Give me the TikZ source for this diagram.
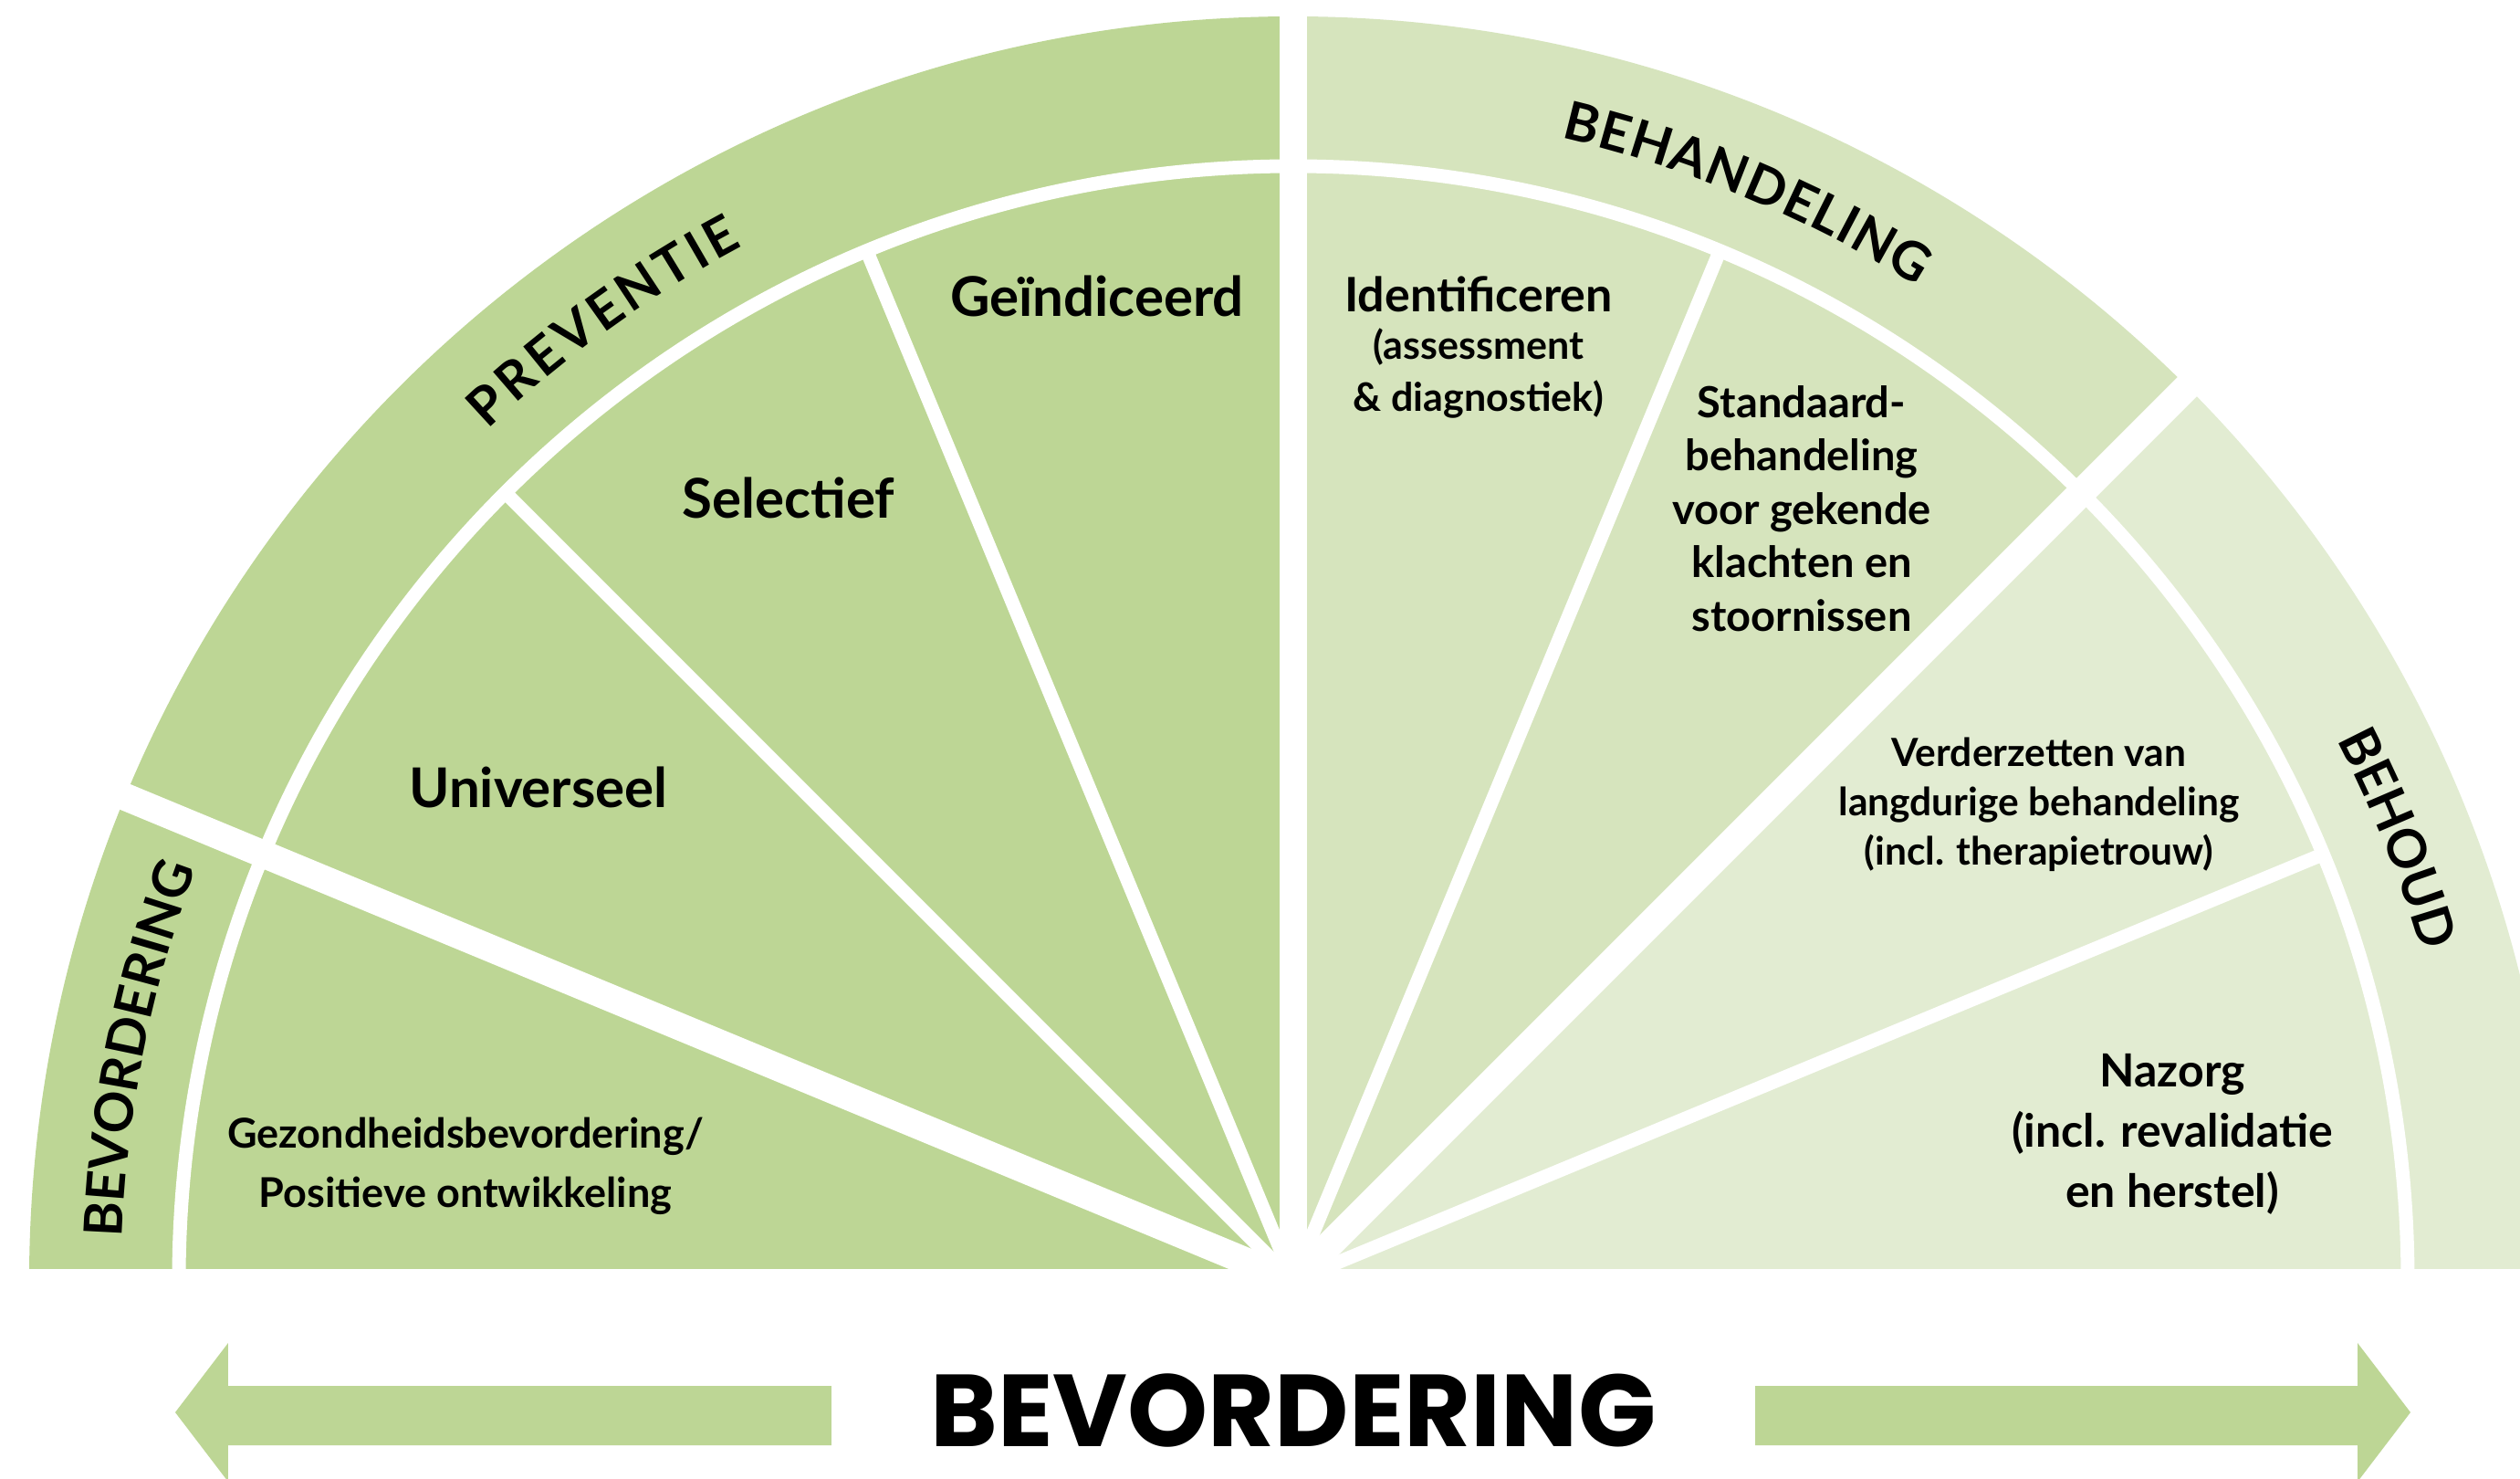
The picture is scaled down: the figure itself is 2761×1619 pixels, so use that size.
\documentclass[tikz,border=0pt]{standalone}
\usepackage{fontspec}
\setmainfont{Lato}
\newfontfamily\titlefont{Poppins}
\usetikzlibrary{decorations.text}
\definecolor{cL}{RGB}{189,214,149}
\definecolor{cM}{RGB}{214,228,189}
\definecolor{cR}{RGB}{226,236,210}
\tikzset{
  lbl/.style={align=center, text=black, inner sep=0pt},
  bigl/.style={lbl, font=\bfseries\fontsize{60}{72}\selectfont},
  idl/.style={lbl, font=\bfseries\fontsize{52}{62}\selectfont},
  subl/.style={lbl, font=\bfseries\fontsize{43}{57}\selectfont},
  stdl/.style={lbl, font=\bfseries\fontsize{47}{58.5}\selectfont},
  verl/.style={lbl, font=\bfseries\fontsize{42.5}{54}\selectfont},
  nazl/.style={lbl, font=\bfseries\fontsize{50}{66}\selectfont},
  gezl/.style={lbl, font=\bfseries\fontsize{45}{65}\selectfont},
  majordiv/.style={white, line width=30pt},
  minordiv/.style={white, line width=15pt},
  ringtext/.style={decorate, decoration={text along path, text align={fit to path},
      text={|\bfseries\fontsize{58}{66}\selectfont|#1}}},
  arrowfill/.style={fill=cL}
}
\begin{document}
\begin{tikzpicture}[x=1pt,y=1pt]
\useasboundingbox (-1417,-216) rectangle (1344,1403);
\fill[white] (-1417,-216) rectangle (1344,1403);
\begin{scope}
  \clip (-1417,14) rectangle (1344,1403);
  \fill[cL] (0,0) -- (180:1385) arc[start angle=180, end angle=90, radius=1385] -- cycle;
  \fill[cM] (0,0) -- (90:1385) arc[start angle=90, end angle=45, radius=1385] -- cycle;
  \fill[cR] (0,0) -- (45:1385) arc[start angle=45, end angle=0, radius=1385] -- cycle;
  % inner white arc
  \draw[white, line width=15pt] (0:1221) arc[start angle=0, end angle=180, radius=1221];
  % minor dividers
  \foreach \a in {135,112.5,67.5,22.5} \draw[minordiv] (0,0) -- (\a:1222);
  % major dividers
  \foreach \a in {157.5,90,45} \draw[majordiv] (0,0) -- (\a:1420);
\end{scope}
% ring labels
\path[ringtext={BEVORDERING}] (177.9:1284) arc[start angle=177.9, end angle=159.7, radius=1284];
\path[ringtext={PREVENTIE}] (133.4:1284) arc[start angle=133.4, end angle=118.0, radius=1284];
\path[ringtext={BEHANDELING}] (76.8:1286) arc[start angle=76.8, end angle=57.9, radius=1286];
\path[ringtext={BEHOUD}] (27.4:1288) arc[start angle=27.4, end angle=16.4, radius=1288];
% sector labels
\node[bigl] (gein) at (-215,1079) {Geïndiceerd};
\node[bigl] (sel) at (-553,858) {Selectief};
\node[bigl] (univ) at (-827,541) {Universeel};
\node[gezl] (gez) at (-907,126) {Gezondheidsbevordering/\\Positieve ontwikkeling};
\node[idl] (ident) at (203,1081) {Identificeren};
\node[subl] (identsub) at (203,994) {(assessment\\\& diagnostiek)};
\node[stdl] (std) at (557,846) {Standaard-\\behandeling\\voor gekende\\klachten en\\stoornissen};
\node[verl] (verder) at (817,522) {Verderzetten van\\langdurige behandeling\\(incl. therapietrouw)};
\node[nazl] (nazorg) at (963,161) {Nazorg\\(incl. revalidatie\\en herstel)};
% bottom arrows
\fill[arrowfill] (-506,-115) -- (-1167,-115) -- (-1167,-68) -- (-1225,-144) -- (-1167,-220) -- (-1167,-180) -- (-506,-180) -- cycle;
\fill[arrowfill] (506,-115) -- (1166,-115) -- (1166,-68) -- (1224,-144) -- (1166,-220) -- (1166,-180) -- (506,-180) -- cycle;
\node[lbl, font=\titlefont\bfseries\fontsize{112}{130}\selectfont] (title) at (0,-142) {BEVORDERING};
\end{tikzpicture}
\end{document}
